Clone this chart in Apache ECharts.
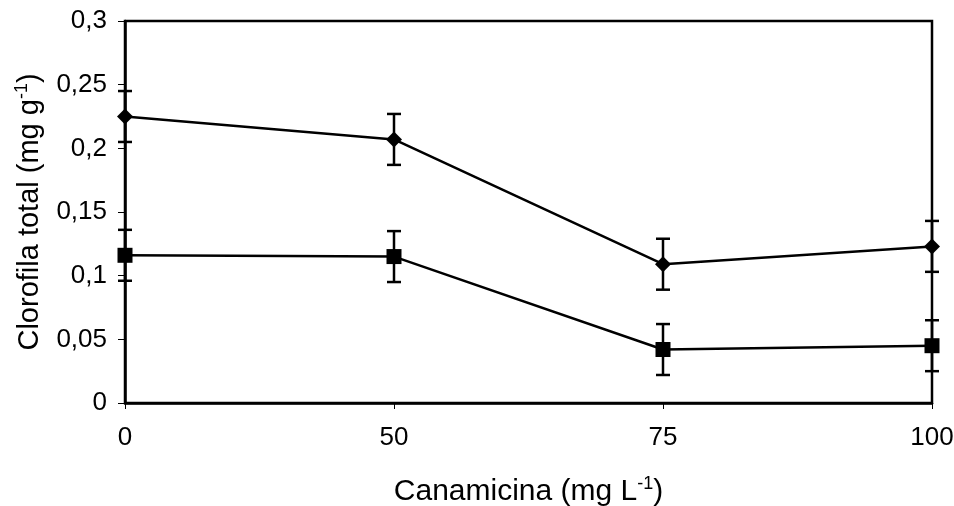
<!DOCTYPE html>
<html>
<head>
<meta charset="utf-8">
<script src="https://cdn.jsdelivr.net/npm/echarts@6/dist/echarts.min.js"></script>
<style>
html,body{margin:0;padding:0;background:#fff;}
#c{width:954px;height:506px;}
</style>
</head>
<body>
<div id="c"></div>
<script>
const categories = ['0', '50', '75', '100'];
const diamondValues = [0.225, 0.207, 0.109, 0.123];
const diamondErrors = [0.02, 0.02, 0.02, 0.02];
const squareValues = [0.116, 0.115, 0.042, 0.045];
const squareErrors = [0.02, 0.02, 0.02, 0.02];
const yMin = 0, yMax = 0.3, yStep = 0.05;

const FONT = '"Liberation Sans", Arial, sans-serif';

function errData(vals, errs) {
  return vals.map((v, i) => [i, v - errs[i], v + errs[i]]);
}

function renderErr(params, api) {
  const x = api.value(0);
  const lo = api.coord([x, api.value(1)]);
  const hi = api.coord([x, api.value(2)]);
  const hw = 7;
  const style = { stroke: '#000', lineWidth: 2.5, fill: null };
  return {
    type: 'group',
    children: [
      { type: 'line', shape: { x1: lo[0], y1: lo[1], x2: hi[0], y2: hi[1] }, style },
      { type: 'line', shape: { x1: lo[0] - hw, y1: lo[1], x2: lo[0] + hw, y2: lo[1] }, style },
      { type: 'line', shape: { x1: hi[0] - hw, y1: hi[1], x2: hi[0] + hw, y2: hi[1] }, style }
    ]
  };
}

const chart = echarts.init(document.getElementById('c'), null, { renderer: 'canvas' });
chart.setOption({
  animation: false,
  backgroundColor: '#fff',
  textStyle: { fontFamily: FONT },
  grid: {
    left: 125, right: 22, top: 21, bottom: 103,
    containLabel: false, outerBoundsMode: 'none',
    show: true, borderColor: '#000', borderWidth: 2.5, backgroundColor: 'transparent'
  },
  xAxis: {
    type: 'category',
    data: categories,
    boundaryGap: false,
    axisLine: { lineStyle: { color: '#000', width: 2.5 } },
    axisTick: { show: true, alignWithLabel: true, length: 6, lineStyle: { color: '#000', width: 1 } },
    axisLabel: { color: '#000', fontSize: 26, fontFamily: FONT, margin: 22 },
    splitLine: { show: false },
    name: '{t|Canamicina (mg L}{s|-1}{t|)}',
    nameLocation: 'middle',
    nameGap: 72,
    nameTextStyle: {
      fontFamily: FONT,
      rich: {
        t: { fontSize: 30, color: '#000', fontFamily: FONT, lineHeight: 34 },
        s: { fontSize: 18, color: '#000', fontFamily: FONT, verticalAlign: 'top', lineHeight: 34 }
      }
    }
  },
  yAxis: {
    type: 'value',
    min: yMin,
    max: yMax,
    interval: yStep,
    axisLine: { show: true, lineStyle: { color: '#000', width: 2.5 } },
    axisTick: { show: true, length: 7, lineStyle: { color: '#000', width: 1 } },
    axisLabel: {
      color: '#000', fontSize: 26, fontFamily: FONT, margin: 18,
      formatter: v => String(parseFloat(v.toFixed(2))).replace('.', ',')
    },
    splitLine: { show: false },
    name: '{t|Clorofila total (mg g}{s|-1}{t|)}',
    nameLocation: 'middle',
    nameGap: 78,
    nameTextStyle: {
      fontFamily: FONT,
      rich: {
        t: { fontSize: 29, color: '#000', fontFamily: FONT, lineHeight: 34 },
        s: { fontSize: 18, color: '#000', fontFamily: FONT, verticalAlign: 'top', lineHeight: 34 }
      }
    }
  },
  series: [
    {
      type: 'custom',
      renderItem: renderErr,
      data: errData(diamondValues, diamondErrors),
      clip: false,
      z: 3
    },
    {
      type: 'custom',
      renderItem: renderErr,
      data: errData(squareValues, squareErrors),
      clip: false,
      z: 3
    },
    {
      type: 'line',
      data: diamondValues,
      symbol: 'diamond',
      symbolSize: [16, 16],
      showSymbol: true,
      lineStyle: { color: '#000', width: 2.5 },
      itemStyle: { color: '#000' },
      z: 4
    },
    {
      type: 'line',
      data: squareValues,
      symbol: 'rect',
      symbolSize: 15,
      showSymbol: true,
      lineStyle: { color: '#000', width: 2.5 },
      itemStyle: { color: '#000' },
      z: 4
    }
  ]
});
</script>
</body>
</html>
